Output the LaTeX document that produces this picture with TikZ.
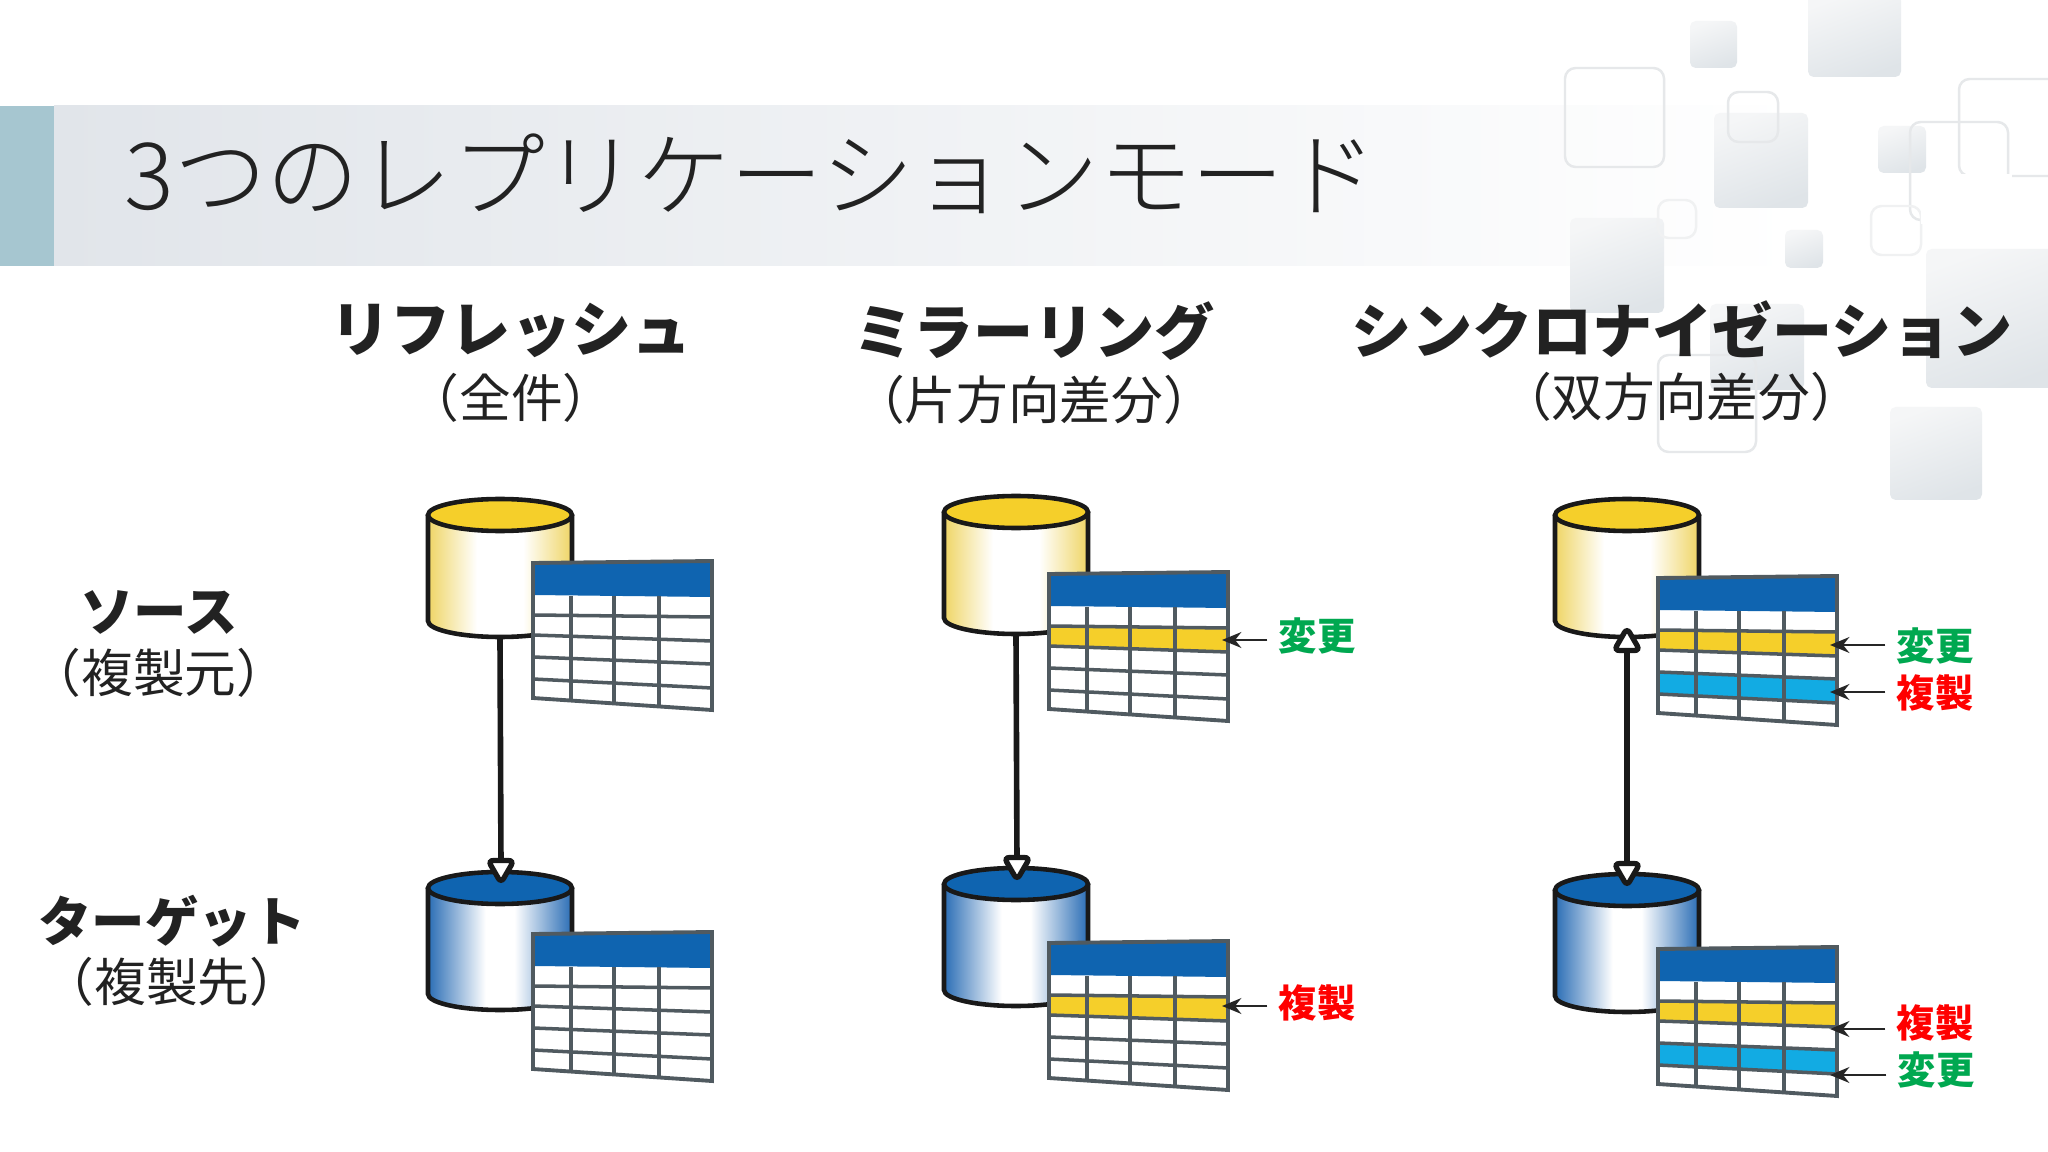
\documentclass[tikz,border=0pt]{standalone}
\usepackage{fontspec}
\setmainfont{Noto Sans CJK JP}
\newfontfamily\titlefont{Noto Sans CJK JP Light}
\usepackage{xcolor}
\usetikzlibrary{shapes.geometric,arrows.meta,positioning,calc}

\definecolor{inkdark}{HTML}{222222}
\definecolor{bandteal}{HTML}{A6C6D0}
\definecolor{bandgray}{HTML}{E1E5EA}
\definecolor{tileedge}{HTML}{E6E8EA}
\definecolor{tilelight}{HTML}{F5F6F7}
\definecolor{tiledark}{HTML}{DFE4E8}
\definecolor{dbyellow}{HTML}{F5CF2A}
\definecolor{dbyellowside}{HTML}{EFD565}
\definecolor{dbblue}{HTML}{0F64B0}
\definecolor{dbblueside}{HTML}{2A6DB5}
\definecolor{tableline}{HTML}{505A60}
\definecolor{rowcyan}{HTML}{12ABE3}
\definecolor{chggreen}{HTML}{00A850}
\definecolor{copyred}{HTML}{FF0000}

\pgfdeclarehorizontalshading{cylyellow}{100bp}{color(0bp)=(dbyellowside); color(25bp)=(dbyellowside); color(42bp)=(white); color(58bp)=(white); color(75bp)=(dbyellowside); color(100bp)=(dbyellowside)}
\pgfdeclarehorizontalshading{cylblue}{100bp}{color(0bp)=(dbblueside); color(25bp)=(dbblueside); color(45bp)=(white); color(55bp)=(white); color(75bp)=(dbblueside); color(100bp)=(dbblueside)}

\tikzset{
  tile/.style={rounded corners=1.6pt,shading=axis,left color=tilelight,right color=tiledark,shading angle=20,draw=none},
  tileframe/.style={rounded corners=3pt,draw=tileedge,line width=0.7pt},
  headbig/.style={font=\bfseries\fontsize{17.1}{19}\selectfont,text=inkdark,inner sep=0pt},
  rowbig/.style={font=\bfseries\fontsize{15.2}{18}\selectfont,text=inkdark,inner sep=0pt},
  headsub/.style={font=\fontsize{14.7}{17}\selectfont,text=inkdark,inner sep=0pt},
  tag/.style={font=\bfseries\fontsize{10.9}{12}\selectfont,inner sep=3pt},
  chgarrow/.style={-{Stealth[length=5.5pt,width=4.5pt]},line width=0.6pt,black!85},
  syncline/.style={line width=1.6pt,black!90},
  synccap/.style={regular polygon,regular polygon sides=3,draw=black!90,fill=white,line width=1.5pt,
    minimum size=8.5pt,inner sep=0pt,rounded corners=1.5pt},
}

% cylinder: name, centre x, top y, lid colour, side shading
\newcommand{\dbcyl}[5]{
  \path[shading=#5] (#2-72,#3) -- (#2-72,#3+106)
    arc[start angle=180,end angle=0,x radius=72,y radius=16] -- (#2+72,#3) -- cycle;
  \draw[line width=1.3pt,black!90] (#2-72,#3) -- (#2-72,#3+106)
    arc[start angle=180,end angle=0,x radius=72,y radius=16] -- (#2+72,#3);
  \draw[fill=#4,draw=black!90,line width=1.3pt] (#2,#3) ellipse[x radius=72,y radius=16];
  \coordinate (#1-bot) at (#2,#3+122);
}

% one coloured row of a table: row number, colour
\newcommand{\tablerow}[2]{
  \pgfmathsetmacro{\ya}{{34,52,72,94,116,136}[#1-1]}
  \pgfmathsetmacro{\yb}{{36,54,78,101,125,147}[#1-1]}
  \pgfmathsetmacro{\yc}{{34,52,72,94,116,136}[#1]}
  \pgfmathsetmacro{\yd}{{36,54,78,101,125,147}[#1]}
  \fill[#2] (0,\ya) -- (179,\yb) -- (179,\yd) -- (0,\yc) -- cycle;
}

% table sheet: left x, top y, extra rows as a list of \tablerow calls
\newcommand{\datatable}[3]{
  \begin{scope}[shift={(#1,#2)}]
    \fill[white] (0,0) -- (179,-2) -- (179,147) -- (0,135) -- cycle;
    #3
    \fill[dbblue] (0,0) -- (179,-2) -- (179,34) -- (0,32) -- cycle;
    \foreach \ya/\yb in {52/54,72/78,94/101,116/125}
      \draw[tableline,line width=1pt] (0,\ya) -- (179,\yb);
    \foreach \cx in {38,81,126}
      \draw[tableline,line width=1pt] (\cx,33) -- (\cx,{135+12*\cx/179});
    \draw[tableline,line width=1.1pt] (0,0) -- (179,-2) -- (179,147) -- (0,135) -- cycle;
  \end{scope}
}

\begin{document}
\begin{tikzpicture}[x=0.01cm,y=-0.01cm]
\useasboundingbox (0,0) rectangle (2048,1152);
\fill[white] (0,0) rectangle (2048,1152);

% Title band
\fill[left color=bandgray,right color=white] (54,106) rectangle (1800,266);
\fill[bandteal] (0,106) rectangle (54,266);

% Tiles
\foreach \xa/\ya/\xb/\yb in {1690/21/1737/68,1808/-5/1901/77,1714/113/1808/208,1878/126/1926/173,
    1785/230/1823/268,1570/218/1664/313,1710/304/1804/390,1926/249/2060/388,1890/407/1982/500}
  \path[tile] (\xa,\ya) rectangle (\xb,\yb);
\foreach \xa/\ya/\xb/\yb in {1565/68/1664/167,1728/92/1778/142,1959/79/2060/176,1910/122/2008/220,1658/355/1756/452}
  \draw[tileframe] (\xa,\ya) rectangle (\xb,\yb);
\foreach \xa/\ya/\xb/\yb in {1658/200/1696/238,1871/206/1921/255}
  \draw[tileframe,draw=tileedge!60] (\xa,\ya) rectangle (\xb,\yb);
\fill[white] (1921,174) rectangle (2012,224);

\node[anchor=west,inner sep=0pt,text=inkdark,font=\titlefont\fontsize{26.35}{30}\selectfont] (title) at (124,174) {3つのレプリケーションモード};

% Column heads
\node[headbig] (refresh) at (511,330) {リフレッシュ};
\node[headsub] (refreshsub) at (511,398) {（全件）};
\node[headbig] (mirror) at (1034,331) {ミラーリング};
\node[headsub] (mirrorsub) at (1034,400) {（片方向差分）};
\node[headbig] (sync) at (1682,330) {シンクロナイゼーション};
\node[headsub] (syncsub) at (1681,397) {（双方向差分）};

% Row heads
\node[rowbig] (source) at (159,612) {ソース};
\node[headsub] (sourcesub) at (159,673) {（複製元）};
\node[rowbig] (target) at (172,921) {ターゲット};
\node[headsub] (targetsub) at (172,982) {（複製先）};

% Cylinders
\dbcyl{srcA}{500}{515}{dbyellow}{cylyellow}
\dbcyl{tgtA}{500}{888}{dbblue}{cylblue}
\dbcyl{srcB}{1016}{512}{dbyellow}{cylyellow}
\dbcyl{tgtB}{1016}{884}{dbblue}{cylblue}
\dbcyl{srcC}{1627}{515}{dbyellow}{cylyellow}
\dbcyl{tgtC}{1627}{890}{dbblue}{cylblue}

% Connectors sit behind the caps
\node[synccap,shape border rotate=180] (capA) at (501,868) {};
\node[synccap,shape border rotate=180] (capB) at (1017,865) {};
\node[synccap,shape border rotate=180] (capC) at (1627,871) {};
\node[synccap] (capCup) at (1627,643) {};
\draw[syncline] (srcA-bot) -- (capA);
\draw[syncline] (srcB-bot) -- (capB);
\draw[syncline] (capCup) -- (capC);

% Tables
\datatable{533}{563}{}
\datatable{533}{934}{}
\datatable{1049}{574}{\tablerow{2}{dbyellow}}
\datatable{1049}{943}{\tablerow{2}{dbyellow}}
\datatable{1658}{578}{\tablerow{2}{dbyellow}\tablerow{4}{rowcyan}}
\datatable{1658}{949}{\tablerow{2}{dbyellow}\tablerow{4}{rowcyan}}

% Change and copy marks
\node[tag,text=chggreen] (chgB) at (1317,636) {変更};
\node[tag,text=copyred] (copyB) at (1317,1003) {複製};
\node[tag,text=chggreen] (chgC) at (1935,646) {変更};
\node[tag,text=copyred] (copyC) at (1935,693) {複製};
\node[tag,text=copyred] (copyD) at (1935,1023) {複製};
\node[tag,text=chggreen] (chgD) at (1936,1070) {変更};

\coordinate (chgBtip) at (1222,640);
\coordinate (copyBtip) at (1222,1006);
\coordinate (chgCtip) at (1830,645);
\coordinate (copyCtip) at (1830,692);
\coordinate (copyDtip) at (1830,1029);
\coordinate (chgDtip) at (1830,1075);
\foreach \mark in {chgB,copyB,chgC,copyC,copyD,chgD}
  \draw[chgarrow] (\mark.west |- \mark tip) -- (\mark tip);
\end{tikzpicture}
\end{document}
